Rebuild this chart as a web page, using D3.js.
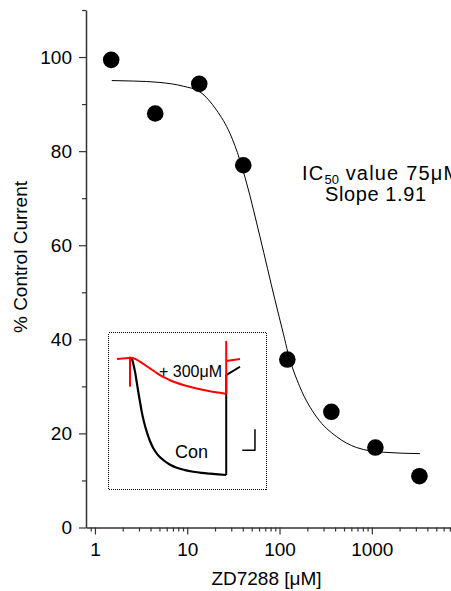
<!DOCTYPE html>
<html>
<head>
<meta charset="utf-8">
<script src="https://cdn.jsdelivr.net/npm/d3@7"></script>
<style>
  body { margin: 0; background: #fff; }
  svg { display: block; font-family: "Liberation Sans", Arial, sans-serif; }
</style>
</head>
<body>
<div class="chart"></div>
<script>
// dose-response data, ZD7288 concentration (uM) vs % control current
const conc = [1.5, 4.5, 13.5, 40.5, 121.5, 364.5, 1093.5, 3280.5];
const pctControl = [99.4, 88.0, 94.3, 77.0, 35.7, 24.6, 17.0, 10.9];

// fitted curve
const fitConc = [1.52, 2.6, 5.06, 9.05, 13.7, 20.8, 29.0, 37.2, 44.0, 61.4, 89.2, 109.7, 124, 166, 252, 416, 684, 1330, 3320];
const fitPct = [95.0, 94.9, 94.6, 93.8, 92.6, 88.7, 83.8, 78.1, 73.2, 61.8, 48.4, 41.3, 37.0, 29.9, 23.5, 19.3, 17.0, 16.0, 15.7];

const yMajorTicks = [0, 20, 40, 60, 80, 100];
const yMinorTicks = [10, 30, 50, 70, 90, 110];
const xMajorTicks = [1, 10, 100, 1000];
const xMinorTicks = [0.9, 2, 3, 4, 5, 6, 7, 8, 9, 20, 30, 40, 50, 60, 70, 80, 90,
  200, 300, 400, 500, 600, 700, 800, 900, 2000, 3000, 4000, 5000, 6000, 7000, 8000, 9000];

// inset current traces (time in ms, current relative to control)
const conT = [0, 15, 33, 50, 66, 84, 101, 125, 152, 185, 219, 265, 320, 385, 457, 540, 625, 710, 795, 880, 960];
const conI = [0, -0.05, -0.119, -0.205, -0.29, -0.378, -0.46, -0.55, -0.63, -0.71, -0.772, -0.828, -0.872, -0.91, -0.938, -0.958, -0.972, -0.982, -0.989, -0.995, -1.0];
const conStepT = [960, 960, 1100];
const conStepI = [-1.0, -0.149, -0.077];
const baseT = [-150, 0];
const baseI = [-0.011, 0];
const zdT = [0, 40, 84, 135, 185, 235, 287, 340, 389, 455, 524, 590, 660, 730, 795, 880, 960];
const zdI = [0, -0.012, -0.034, -0.062, -0.091, -0.12, -0.149, -0.172, -0.192, -0.214, -0.233, -0.248, -0.262, -0.275, -0.286, -0.297, -0.307];
const zdStepT = [960, 960, 960, 1100];
const zdStepI = [-0.307, 0.136, -0.028, -0.011];
const spikeT = [-18, -18];
const spikeI = [0.0085, -0.247];
const barT = [1123, 1252, 1252];
const barI = [-0.79, -0.79, -0.61];

const width = 451;
const height = 591;

const svg = d3.select('.chart')
  .append('svg')
  .attr('width', width)
  .attr('height', height);

const x = d3.scaleLog().domain([0.8, 10000]).range([86, 464.1]);
const y = d3.scaleLinear().domain([0, 110]).range([527.5, 10]);

const axisColor = '#333';

// y axis
svg.append('g')
  .attr('transform', 'translate(86,0)')
  .call(d3.axisLeft(y).tickValues(yMajorTicks).tickSize(7).tickSizeOuter(0).tickPadding(7));
svg.append('g')
  .attr('transform', 'translate(86,0)')
  .call(d3.axisLeft(y).tickValues(yMinorTicks).tickSize(4).tickFormat(''))
  .call(g => g.select('.domain').remove());

// x axis
svg.append('g')
  .attr('transform', 'translate(0,527.5)')
  .call(d3.axisBottom(x).tickValues(xMajorTicks).tickFormat(d3.format('d')).tickSize(7).tickSizeOuter(0).tickPadding(8));
svg.append('g')
  .attr('transform', 'translate(0,527.5)')
  .call(d3.axisBottom(x).tickValues(xMinorTicks).tickSize(4).tickFormat(''))
  .call(g => g.select('.domain').remove());

svg.selectAll('.domain').attr('stroke', axisColor).attr('stroke-width', 1.5);
svg.selectAll('.tick line').attr('stroke', axisColor).attr('stroke-width', 1.2);
svg.selectAll('.tick text')
  .attr('fill', '#000')
  .style('font-size', '19px')
  .style('font-family', '"Liberation Sans", Arial, sans-serif');

// axis titles
svg.append('text')
  .attr('x', 266.5)
  .attr('y', 585)
  .attr('text-anchor', 'middle')
  .style('font-size', '19px')
  .text('ZD7288 [μM]');

svg.append('text')
  .attr('transform', 'translate(27,257) rotate(-90)')
  .attr('text-anchor', 'middle')
  .style('font-size', '19px')
  .text('% Control Current');

// fit curve
const fitData = fitConc.map((c, i) => [c, fitPct[i]]);
svg.append('path')
  .datum(fitData)
  .attr('fill', 'none')
  .attr('stroke', '#000')
  .attr('stroke-width', 1)
  .attr('d', d3.line().x(d => x(d[0])).y(d => y(d[1])).curve(d3.curveMonotoneX));

// data points
svg.selectAll('circle.pt')
  .data(conc.map((c, i) => [c, pctControl[i]]))
  .enter()
  .append('circle')
  .attr('class', 'pt')
  .attr('cx', d => x(d[0]))
  .attr('cy', d => y(d[1]))
  .attr('r', 8.3)
  .attr('fill', '#000');

// annotation
const ic = svg.append('text')
  .attr('x', 302)
  .attr('y', 180)
  .style('font-size', '20px')
  .style('letter-spacing', '1.2px');
ic.append('tspan').text('IC');
ic.append('tspan').attr('dy', 4).style('font-size', '13px').style('letter-spacing', '0px').text('50');
ic.append('tspan').attr('dy', -4).text(' value 75μM');

svg.append('text')
  .attr('x', 325)
  .attr('y', 201)
  .style('font-size', '20px')
  .style('letter-spacing', '0.6px')
  .text('Slope 1.91');

// inset
svg.append('rect')
  .attr('x', 108.5)
  .attr('y', 332.5)
  .attr('width', 158)
  .attr('height', 157)
  .attr('fill', 'none')
  .attr('stroke', '#000')
  .attr('stroke-width', 1)
  .attr('stroke-dasharray', '1,1')
  .attr('shape-rendering', 'crispEdges');

const tx = d3.scaleLinear().domain([-150, 1100]).range([117, 240]);
const ty = d3.scaleLinear().domain([0, -1]).range([357.7, 475]);
const smooth = d3.line().x(d => tx(d[0])).y(d => ty(d[1])).curve(d3.curveMonotoneX);
const straight = d3.line().x(d => tx(d[0])).y(d => ty(d[1]));

function trace(ts, is, line, color, w) {
  svg.append('path')
    .datum(ts.map((t, i) => [t, is[i]]))
    .attr('fill', 'none')
    .attr('stroke', color)
    .attr('stroke-width', w)
    .attr('stroke-linejoin', 'round')
    .attr('d', line);
}

// control trace under the red one
trace(conT, conI, smooth, '#000', 2.2);
trace(conStepT, conStepI, straight, '#000', 2);
// ZD7288 trace
trace(baseT, baseI, straight, '#f00', 2);
trace(zdT, zdI, smooth, '#f00', 2);
trace(zdStepT, zdStepI, straight, '#f00', 2);
trace(spikeT, spikeI, straight, '#f00', 2);
// scale bar
trace(barT, barI, straight, '#000', 1.5);

svg.append('text')
  .attr('x', 159)
  .attr('y', 376.5)
  .style('font-size', '16px')
  .text('+ 300μM');

svg.append('text')
  .attr('x', 175)
  .attr('y', 457.5)
  .style('font-size', '18px')
  .text('Con');
</script>
</body>
</html>
